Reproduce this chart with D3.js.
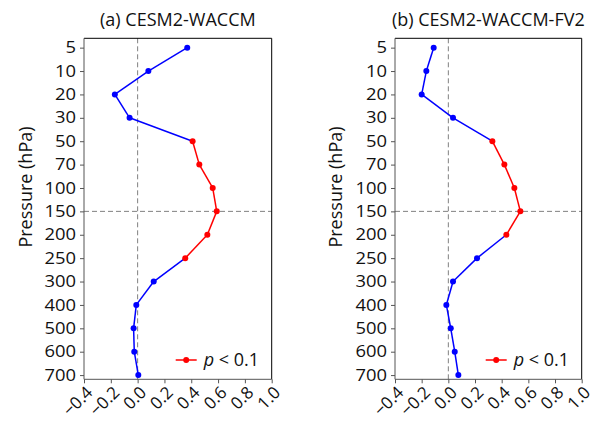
<!DOCTYPE html>
<html>
<head>
  <meta charset="utf-8">
  <script src="https://cdn.jsdelivr.net/npm/d3@7"></script>
  <style>
    body { margin: 0; background: #fff; }
    svg { font-family: "Open Sans", sans-serif; }
  </style>
</head>
<body>
  <main id="container"></main>
  <script>
    // pressure levels (hPa), top to bottom
    const levels = [5, 10, 20, 30, 50, 70, 100, 150, 200, 250, 300, 400, 500, 600, 700];
    const waccmVals = [0.37, 0.08, -0.17, -0.06, 0.41, 0.46, 0.56, 0.59, 0.52, 0.355, 0.12, -0.01, -0.03, -0.025, 0.005];
    const waccmSig  = [0, 0, 0, 0, 1, 1, 1, 1, 1, 1, 0, 0, 0, 0, 0];
    const fv2Vals = [-0.11, -0.165, -0.2, 0.035, 0.33, 0.42, 0.495, 0.54, 0.435, 0.215, 0.035, -0.015, 0.018, 0.048, 0.075];
    const fv2Sig  = [0, 0, 0, 0, 1, 1, 1, 1, 1, 0, 0, 0, 0, 0, 0];
    const xTicks = [-0.4, -0.2, 0.0, 0.2, 0.4, 0.6, 0.8, 1.0];
    const panels = [
      { title: "(a) CESM2-WACCM", vals: waccmVals, sig: waccmSig, left: 84, right: 271.7, labelX: 32 },
      { title: "(b) CESM2-WACCM-FV2", vals: fv2Vals, sig: fv2Sig, left: 395, right: 581.7, labelX: 342 }
    ];

    const width = 602, height = 421;
    const plotTop = 38.3, plotBottom = 379.3;
    const blue = "#0000ff", red = "#ff0000";

    const svg = d3.select("#container").append("svg")
      .attr("width", width).attr("height", height);

    // level index -> pixel
    const y = d3.scaleLinear().domain([-0.4, 14.18]).range([plotTop, plotBottom]);

    panels.forEach(p => {
      const x = d3.scaleLinear().domain([-0.4, 1.0]).range([p.left, p.right]);
      const g = svg.append("g");

      // reference lines
      g.append("line")
        .attr("x1", x(0)).attr("x2", x(0)).attr("y1", plotTop).attr("y2", plotBottom)
        .attr("stroke", "#808080").attr("stroke-width", 1).attr("stroke-dasharray", "5,3");
      g.append("line")
        .attr("x1", p.left).attr("x2", p.right).attr("y1", y(7)).attr("y2", y(7))
        .attr("stroke", "#808080").attr("stroke-width", 1).attr("stroke-dasharray", "5,3");

      // line segments: red only when both ends significant
      const pts = p.vals.map((v, i) => ({ v, i, s: p.sig[i] }));
      const segs = d3.pairs(pts);
      g.selectAll("line.seg").data(segs).join("line")
        .attr("class", "seg")
        .attr("x1", d => x(d[0].v)).attr("y1", d => y(d[0].i))
        .attr("x2", d => x(d[1].v)).attr("y2", d => y(d[1].i))
        .attr("stroke", d => (d[0].s && d[1].s) ? red : blue)
        .attr("stroke-width", 1.5);
      g.selectAll("circle").data(pts).join("circle")
        .attr("cx", d => x(d.v)).attr("cy", d => y(d.i)).attr("r", 3)
        .attr("fill", d => d.s ? red : blue);

      // frame
      g.append("line").attr("x1", p.left).attr("x2", p.right).attr("y1", plotTop).attr("y2", plotTop)
        .attr("stroke", "#000");
      g.append("line").attr("x1", p.right).attr("x2", p.right).attr("y1", plotTop).attr("y2", plotBottom)
        .attr("stroke", "#000");

      // y axis
      const ya = g.append("g").attr("transform", `translate(${p.left},0)`)
        .call(d3.axisLeft(y).tickValues(d3.range(levels.length)).tickFormat(i => levels[i])
          .tickSize(4).tickPadding(4));
      ya.select(".domain").attr("stroke", "#555").attr("d", `M0,${plotTop}V${plotBottom}`);
      ya.selectAll(".tick line").attr("stroke", "#555");
      ya.selectAll(".tick text")
        .attr("font-size", 16).attr("font-family", "Open Sans").attr("fill", "#111")
        .attr("transform", "scale(1.15,1)")
        .attr("x", -8 / 1.15);

      // x axis
      const xa = g.append("g").attr("transform", `translate(0,${plotBottom})`)
        .call(d3.axisBottom(x).tickValues(xTicks).tickFormat(d3.format(".1f")).tickSize(4));
      xa.select(".domain").attr("stroke", "#555").attr("d", `M${p.left},0H${p.right}`);
      xa.selectAll(".tick line").attr("stroke", "#555");
      xa.selectAll(".tick text")
        .attr("font-size", 17).attr("font-family", "Open Sans").attr("fill", "#111")
        .attr("text-anchor", "end")
        .attr("x", 0).attr("y", 0).attr("dy", "0.35em")
        .attr("transform", "translate(5,10) rotate(-45)");

      // title
      g.append("text")
        .attr("x", (p.left + p.right) / 2).attr("y", 26)
        .attr("text-anchor", "middle").attr("font-size", 18).attr("fill", "#111")
        .text(p.title);

      // y label
      g.append("text")
        .attr("transform", `translate(${p.labelX},187) rotate(-90)`)
        .attr("text-anchor", "middle").attr("font-size", 18).attr("fill", "#111")
        .text("Pressure (hPa)");

      // legend
      const lx = p.right - 96, ly = 360;
      g.append("line").attr("x1", lx).attr("x2", lx + 21).attr("y1", ly).attr("y2", ly)
        .attr("stroke", red).attr("stroke-width", 1.5);
      g.append("circle").attr("cx", lx + 10.5).attr("cy", ly).attr("r", 3).attr("fill", red);
      const lt = g.append("text").attr("x", lx + 28).attr("y", ly + 6)
        .attr("font-size", 18).attr("fill", "#111");
      lt.append("tspan").attr("font-style", "italic").text("p");
      lt.append("tspan").text(" < 0.1");
    });
  </script>
</body>
</html>
